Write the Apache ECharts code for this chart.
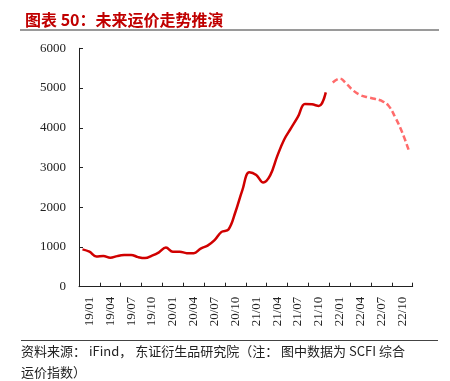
<!DOCTYPE html>
<html>
<head>
<meta charset="utf-8">
<script src="https://cdn.jsdelivr.net/npm/echarts@6/dist/echarts.min.js"></script>
<style>
html,body{margin:0;padding:0;background:#fff;}
#chart{width:450px;height:381px;}
</style>
</head>
<body>
<div id="chart"></div>
<script>
// Quarter tick labels shown on the axis
const quarterLabels = ['19/01','19/04','19/07','19/10','20/01','20/04','20/07','20/10','21/01','21/04','21/07','21/10','22/01','22/04','22/07','22/10'];
// Monthly categories (19/01 .. 22/12)
const months = [];
for (let y = 19; y <= 22; y++) for (let m = 1; m <= 12; m++) months.push(y + '/' + (m < 10 ? '0' + m : m));
// SCFI actual (19/01 .. 21/12)
const actualValues = [940,880,760,775,730,770,795,800,745,720,780,865,985,880,880,845,845,960,1035,1170,1380,1440,1880,2430,2880,2810,2620,2800,3280,3700,3990,4280,4600,4590,4550,4890];
// Forecast (22/01 .. 22/12)
const forecastValues = [5140,5240,5100,4930,4820,4770,4730,4680,4560,4260,3880,3400];
const yTicks = [0,1000,2000,3000,4000,5000,6000];

const actualSeries = months.map((m,i) => i < actualValues.length ? actualValues[i] : '-');
const forecastSeries = months.map((m,i) => i >= actualValues.length ? forecastValues[i - actualValues.length] : '-');

const chart = echarts.init(document.getElementById('chart'), null, {renderer:'canvas'});
const serif = '"Liberation Serif","DejaVu Serif",serif';
const cjk = '"Noto Sans CJK SC","Noto Sans",sans-serif';
chart.setOption({
  animation:false,
  backgroundColor:'#fff',
  title:{
    text:'图表 50：未来运价走势推演',
    left:20, top:7,
    textStyle:{color:'#c00000', fontSize:16, fontWeight:'bold', fontFamily:cjk}
  },
  graphic:[
    {type:'line', shape:{x1:20,y1:30,x2:439,y2:30}, style:{stroke:'#9a9a9a', lineWidth:2}},
    {type:'line', shape:{x1:21,y1:340.5,x2:438,y2:340.5}, style:{stroke:'#444', lineWidth:1}},
    {type:'text', left:21, top:341, style:{text:'资料来源： iFind， 东证衍生品研究院（注： 图中数据为 SCFI 综合\n运价指数）', font:'13px ' + cjk, fill:'#222', lineHeight:21}}
  ],
  grid:{left:79, right:37.3, top:48.3, bottom:94.3, containLabel:false},
  xAxis:[
    {
      type:'category', data:quarterLabels, boundaryGap:true, position:'bottom',
      axisLine:{lineStyle:{color:'#222', width:1}},
      axisTick:{show:true, inside:true, length:4, interval:0, lineStyle:{color:'#222'}},
      axisLabel:{rotate:90, interval:0, margin:10, fontSize:13, fontFamily:serif, color:'#222'}
    },
    {
      type:'category', data:months, boundaryGap:true, position:'bottom', show:false
    }
  ],
  yAxis:{
    type:'value', min:0, max:6000, interval:1000,
    axisLine:{show:true, lineStyle:{color:'#222', width:1}},
    axisTick:{show:true, inside:true, length:4, lineStyle:{color:'#222'}},
    splitLine:{show:false},
    axisLabel:{margin:13, fontSize:13, fontFamily:serif, color:'#222', formatter:v => String(v)}
  },
  series:[
    {type:'line', xAxisIndex:1, data:actualSeries, smooth:0.4, showSymbol:false,
     lineStyle:{color:'#d00000', width:2.5}},
    {type:'line', xAxisIndex:1, data:forecastSeries, smooth:0.4, showSymbol:false,
     lineStyle:{color:'#ff6b6b', width:2.5, type:[6,3]}}
  ]
});
</script>
</body>
</html>
